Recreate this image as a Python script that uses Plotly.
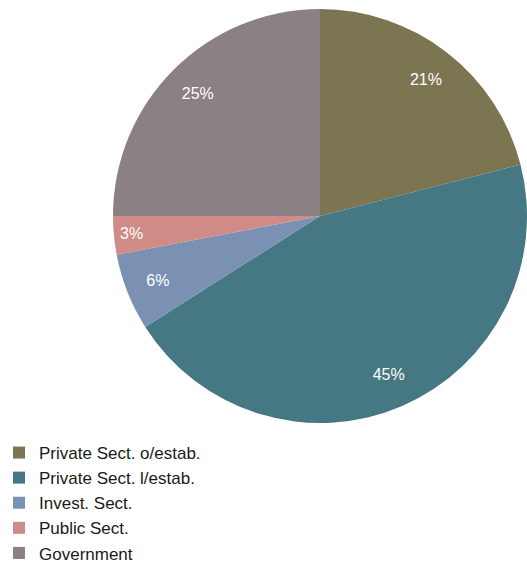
import plotly.graph_objects as go

categories = ["Private Sect. o/estab.", "Private Sect. l/estab.", "Invest. Sect.", "Public Sect.", "Government"]
values = [21, 45, 6, 3, 25]
colors = ["#7b7552", "#457882", "#7b91b3", "#cf8b85", "#8b8083"]

W, H = 527, 567
left, top, r = 113.0, 9.0, 207.0
cx, cy = left + r, top + r

dom = dict(x=[left / W, min(1.0, (left + 2 * r) / W)],
           y=[1 - (cy + r) / H, 1 - (cy - r) / H])

FONT = "Liberation Sans Narrow, Arial Narrow, sans-serif"

pie = go.Pie(
    labels=categories,
    values=values,
    sort=False,
    direction="clockwise",
    rotation=0,
    marker=dict(colors=colors, line=dict(width=0)),
    textinfo="none",
    hoverinfo="label+percent",
    domain=dom,
)

# transparent ring that only carries the percentage labels, so they sit near the rim
labels_ring = go.Pie(
    labels=categories,
    values=values,
    sort=False,
    direction="clockwise",
    rotation=0,
    hole=0.67,
    marker=dict(colors=["rgba(0,0,0,0)"] * len(values), line=dict(width=0)),
    texttemplate="%{percent:.0%}",
    textposition="inside",
    insidetextorientation="horizontal",
    textfont=dict(color="white", size=16, family="Liberation Sans, Arial, sans-serif"),
    hoverinfo="skip",
    showlegend=False,
    domain=dom,
)

fig = go.Figure([pie, labels_ring])

fig.update_layout(
    width=W, height=H,
    margin=dict(l=0, r=0, t=0, b=0, autoexpand=False),
    paper_bgcolor="white",
    plot_bgcolor="white",
    showlegend=True,
    legend=dict(
        x=-1 / W, y=-4 / H, xanchor="left", yanchor="bottom",
        font=dict(size=17, color="#1a1a1a", family=FONT),
        traceorder="normal",
        itemclick=False,
    ),
)

fig.write_html(
    "out.html",
    config={"displayModeBar": False},
    post_script="document.body.style.margin='0';document.body.style.overflow='hidden';",
)
